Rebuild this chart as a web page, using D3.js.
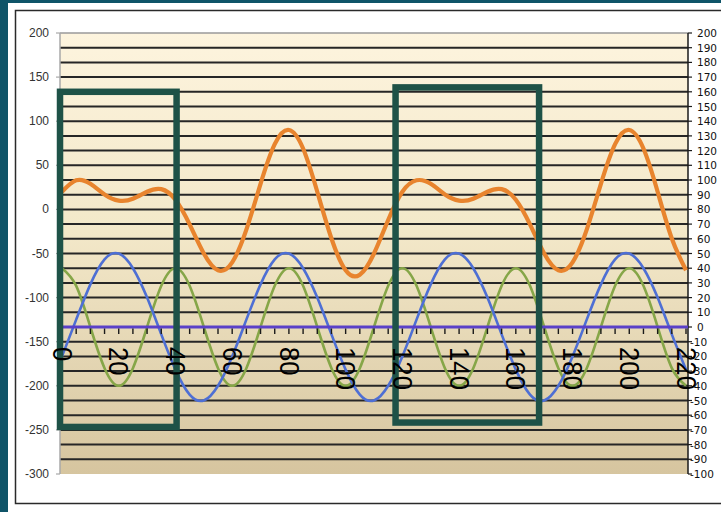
<!DOCTYPE html>
<html>
<head>
<meta charset="utf-8">
<script src="https://cdn.jsdelivr.net/npm/d3@7/dist/d3.min.js"></script>
<style>
  html, body { margin: 0; padding: 0; background: #ffffff; }
  svg { display: block; }
</style>
</head>
<body>
<svg id="chart" width="721" height="512"></svg>
<script>
// Sample positions along the horizontal axis
const xValues = [0,5,10,15,20,25,30,35,40,45,50,55,60,65,70,75,80,85,90,95,100,105,110,
  115,120,125,130,135,140,145,150,155,160,165,170,175,180,185,190,195,200,205,210,215,220];

// Blue wave (right axis)
const blueValues = [-20,5,29,46,50,40,20,-5,-29,-46,-50,-40,
  -20,5,29,46,50,40,20,-5,-29,-46,-50,-40,
  -20,5,29,46,50,40,20,-5,-29,-46,-50,-40,
  -20,5,29,46,50,40,20,-5,-29];

// Green wave (right axis)
const greenValues = [40,28,0,-28,-40,-28,0,28,
  40,28,0,-28,-40,-28,0,28,
  40,28,0,-28,-40,-28,0,28,
  40,28,0,-28,-40,-28,0,28,
  40,28,0,-28,-40,-28,0,28,
  40,28,0,-28,-40];

// Orange combined wave (left axis)
const orangeValues = [20,33,29,17,10,12,20,23,11,-17,-50,-69,-60,-23,29,74,90,69,20,-33,-69,-74,-50,-12,
  20,33,29,17,10,12,20,23,11,-17,-50,-69,-60,-23,29,74,90,69,20,-33,-69];

// Axis ticks
const xTickLabels = [0,20,40,60,80,100,120,140,160,180,200,220];
const xMinorTicks = xValues;
const leftTicks = [200,150,100,50,0,-50,-100,-150,-200,-250,-300];
const rightTicks = [200,190,180,170,160,150,140,130,120,110,100,90,80,70,60,50,40,30,20,10,0,
  -10,-20,-30,-40,-50,-60,-70,-80,-90,-100];

// Highlight boxes (x in axis units, y in right-axis units)
const boxX0 = [-0.7, 117.6];
const boxX1 = [40.4, 168.2];
const boxTop = [160, 163];
const boxBottom = [-68, -65];

const svg = d3.select("#chart");

// Frame
svg.append("rect").attr("x", 0).attr("y", 0).attr("width", 721).attr("height", 512).attr("fill", "#ffffff");
svg.append("rect").attr("x", 0).attr("y", 0).attr("width", 8).attr("height", 512).attr("fill", "#0f5468");
svg.append("rect").attr("x", 0).attr("y", 0).attr("width", 721).attr("height", 3).attr("fill", "#0f5468");
svg.append("path")
  .attr("d", "M721,10.5 H15.5 V503.5 H721")
  .attr("fill", "none").attr("stroke", "#2a2a2a").attr("stroke-width", 1.5);

const plot = { left: 60, right: 688, top: 33, bottom: 474 };

const x = d3.scaleLinear().domain([0, 220]).range([62, 686]);
const yL = d3.scaleLinear().domain([-300, 200]).range([plot.bottom, plot.top]);
const yR = d3.scaleLinear().domain([-100, 200]).range([plot.bottom, plot.top]);

// Plot background gradient
const defs = svg.append("defs");
const grad = defs.append("linearGradient").attr("id", "bg").attr("x1", 0).attr("y1", 0).attr("x2", 0).attr("y2", 1);
grad.append("stop").attr("offset", "0%").attr("stop-color", "#fdf4de");
grad.append("stop").attr("offset", "45%").attr("stop-color", "#f3e8c9");
grad.append("stop").attr("offset", "100%").attr("stop-color", "#d6c59f");

svg.append("rect")
  .attr("x", plot.left).attr("y", plot.top)
  .attr("width", plot.right - plot.left).attr("height", plot.bottom - plot.top)
  .attr("fill", "url(#bg)");

// Horizontal grid lines every 10 on the right axis
svg.append("g").selectAll("line")
  .data(rightTicks.filter(v => v > -100 && v < 200 && v !== 0))
  .join("line")
  .attr("x1", plot.left).attr("x2", plot.right)
  .attr("y1", d => yR(d)).attr("y2", d => yR(d))
  .attr("stroke", "#262626").attr("stroke-width", 2);

// Top edge
svg.append("line")
  .attr("x1", plot.left).attr("x2", plot.right)
  .attr("y1", plot.top).attr("y2", plot.top)
  .attr("stroke", "#9a9a9a").attr("stroke-width", 1.5);

// Left axis
const leftAxis = svg.append("g");
leftAxis.append("line")
  .attr("x1", plot.left).attr("x2", plot.left)
  .attr("y1", plot.top).attr("y2", plot.bottom)
  .attr("stroke", "#a8a8a8").attr("stroke-width", 1.5);
leftAxis.selectAll("line.tick")
  .data(leftTicks).join("line").attr("class", "tick")
  .attr("x1", plot.left - 4).attr("x2", plot.left)
  .attr("y1", d => yL(d)).attr("y2", d => yL(d))
  .attr("stroke", "#a8a8a8").attr("stroke-width", 1.2);
leftAxis.selectAll("text")
  .data(leftTicks).join("text")
  .attr("x", 49).attr("y", d => yL(d))
  .attr("text-anchor", "end").attr("dominant-baseline", "central")
  .attr("font-family", "'Liberation Sans', Arial, sans-serif")
  .attr("font-size", 12).attr("fill", "#333")
  .text(d => d);

// Right axis
const rightAxis = svg.append("g");
rightAxis.append("line")
  .attr("x1", plot.right).attr("x2", plot.right)
  .attr("y1", plot.top).attr("y2", plot.bottom)
  .attr("stroke", "#1a1a1a").attr("stroke-width", 1.5);
rightAxis.selectAll("line.tick")
  .data(rightTicks).join("line").attr("class", "tick")
  .attr("x1", plot.right).attr("x2", plot.right + 4)
  .attr("y1", d => yR(d)).attr("y2", d => yR(d))
  .attr("stroke", "#1a1a1a").attr("stroke-width", 1.2);
rightAxis.selectAll("text")
  .data(rightTicks).join("text")
  .attr("x", d => d < 0 ? 690 : 697).attr("y", d => yR(d))
  .attr("text-anchor", "start").attr("dominant-baseline", "central")
  .attr("font-family", "'DejaVu Sans', sans-serif")
  .attr("font-size", 10.5).attr("fill", "#111")
  .text(d => d);

// Series lines
const lineR = d3.line().x((d, i) => x(xValues[i])).y(d => yR(d)).curve(d3.curveNatural);
const lineL = d3.line().x((d, i) => x(xValues[i])).y(d => yL(d)).curve(d3.curveNatural);

svg.append("path").datum(greenValues).attr("d", lineR)
  .attr("fill", "none").attr("stroke", "#86a648").attr("stroke-width", 2.6);
svg.append("path").datum(blueValues).attr("d", lineR)
  .attr("fill", "none").attr("stroke", "#4e6fd4").attr("stroke-width", 2.6);
svg.append("path").datum(orangeValues).attr("d", lineL)
  .attr("fill", "none").attr("stroke", "#e8842e").attr("stroke-width", 4.2)
  .attr("stroke-linejoin", "round");

// Horizontal axis at zero (right scale)
svg.append("line")
  .attr("x1", plot.left).attr("x2", plot.right)
  .attr("y1", yR(0)).attr("y2", yR(0))
  .attr("stroke", "#5a40c8").attr("stroke-width", 3);
svg.append("g").selectAll("line")
  .data(xMinorTicks).join("line")
  .attr("x1", d => x(d)).attr("x2", d => x(d))
  .attr("y1", yR(0) + 1.5).attr("y2", yR(0) + 7)
  .attr("stroke", "#1a1a1a").attr("stroke-width", 1.4);

// Highlight boxes
svg.append("g").selectAll("rect")
  .data(boxX0.map((v, i) => i)).join("rect")
  .attr("x", i => x(boxX0[i])).attr("y", i => yR(boxTop[i]))
  .attr("width", i => x(boxX1[i]) - x(boxX0[i]))
  .attr("height", i => yR(boxBottom[i]) - yR(boxTop[i]))
  .attr("fill", "none").attr("stroke", "#1e5247").attr("stroke-width", 6.5);

// Rotated tick labels
svg.append("g").selectAll("text")
  .data(xTickLabels).join("text")
  .attr("transform", d => `translate(${x(d)},347) rotate(90) scale(0.92,1)`)
  .attr("text-anchor", "start").attr("dominant-baseline", "central")
  .attr("font-family", "'Liberation Sans', Arial, sans-serif")
  .attr("font-size", 28).attr("fill", "#000")
  .text(d => d);
</script>
</body>
</html>
